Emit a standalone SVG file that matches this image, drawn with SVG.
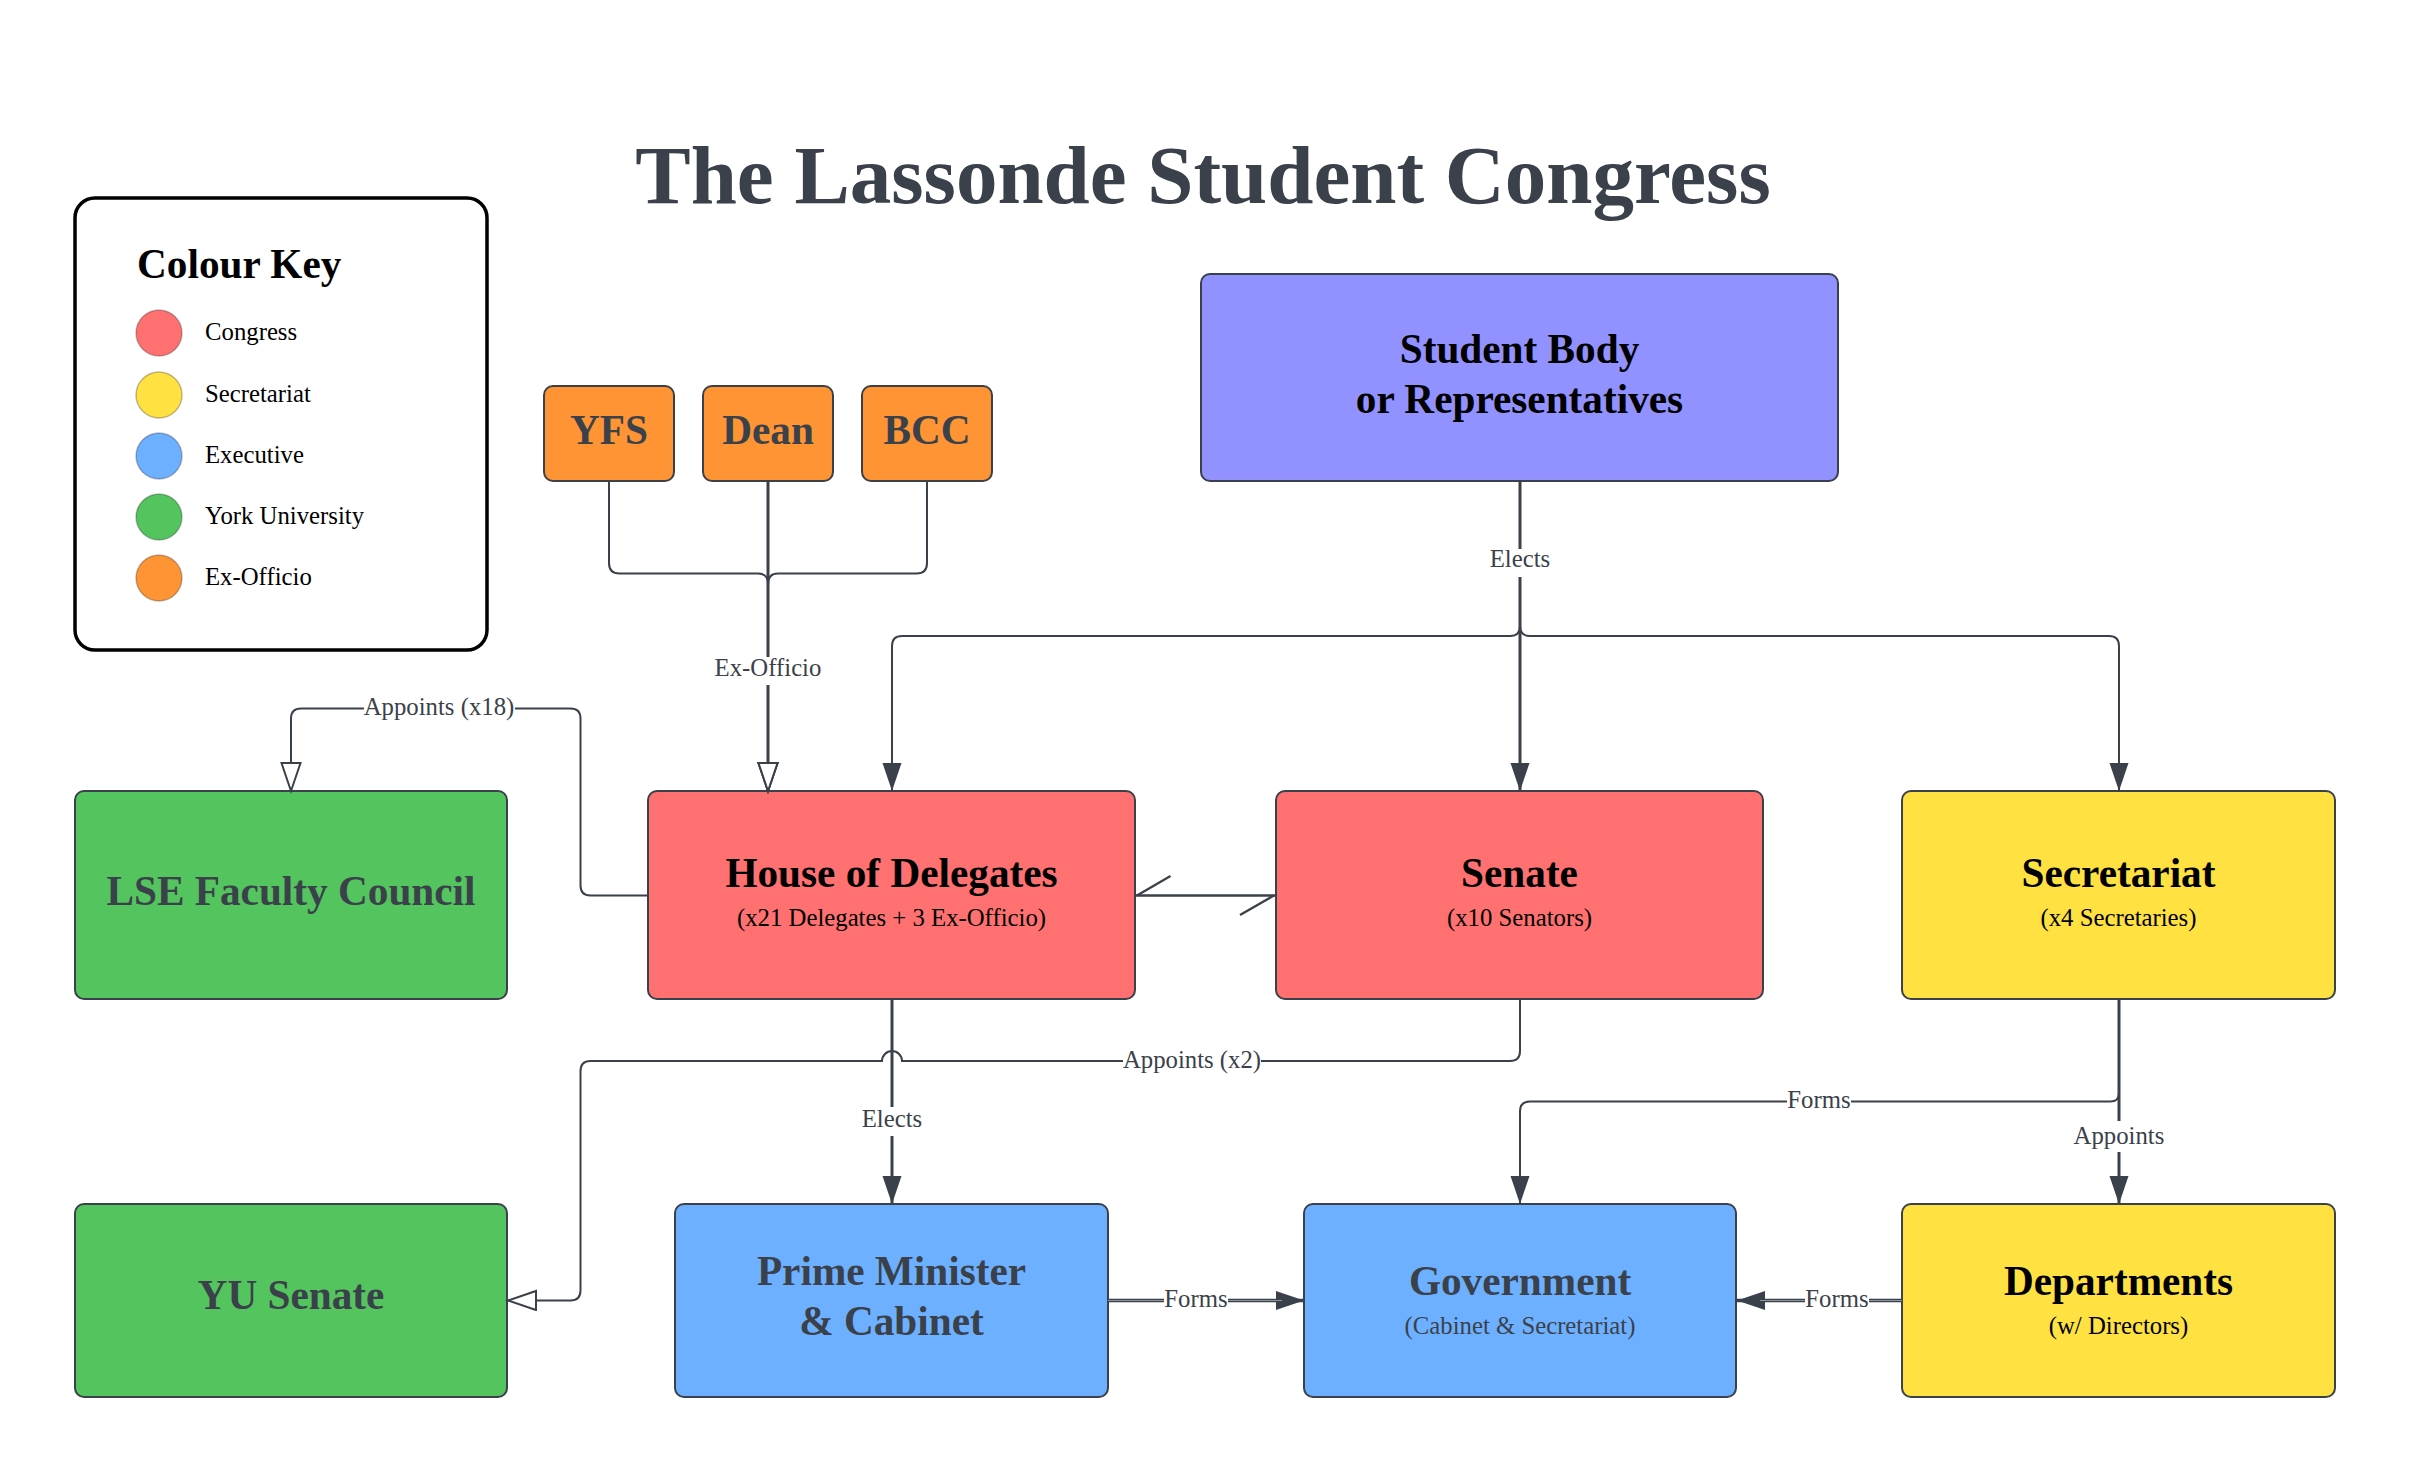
<svg xmlns="http://www.w3.org/2000/svg" width="2413" height="1472" viewBox="0 0 2413 1472">
<defs>
<style>
.node{stroke:#3a414a;stroke-width:2}
.red{fill:#ff7070}.yel{fill:#ffe142}.blu{fill:#6db0ff}.grn{fill:#54c45e}.org{fill:#fe9433}.pur{fill:#9191ff}
.t{font-family:"Liberation Serif","Times New Roman",serif;font-weight:bold;font-size:41.25px;text-anchor:middle}
.s{font-family:"Liberation Serif","Times New Roman",serif;font-size:24.75px;text-anchor:middle}
.dk{fill:#3a414a}.bk{fill:#000}
.c{fill:none;stroke:#3a414a;stroke-width:2}
.c3{fill:none;stroke:#3a414a;stroke-width:3}
.lbl{font-family:"Liberation Serif","Times New Roman",serif;font-size:24.75px;text-anchor:middle;fill:#3a414a}
.bg{fill:#fff}
.leg{font-family:"Liberation Serif","Times New Roman",serif;font-size:24.75px;fill:#000}
.dot{stroke:#000;stroke-opacity:.25;stroke-width:1.5}
</style>
<marker id="af" markerUnits="userSpaceOnUse" markerWidth="30" markerHeight="21" refX="28" refY="9.5" orient="auto">
<path d="M0,0 L28,9.5 L0,19 Z" fill="#3a414a"/>
</marker>
<marker id="ah" markerUnits="userSpaceOnUse" markerWidth="32" markerHeight="23" refX="29" refY="10.5" orient="auto">
<path d="M1,1 L29,10.5 L1,20 Z" fill="#fff" stroke="#3a414a" stroke-width="2"/>
</marker>
</defs>
<rect width="2413" height="1472" fill="#fff"/>

<text x="1203" y="203" class="t dk" style="font-size:83px">The Lassonde Student Congress</text>

<g id="colour-key">
<rect x="75" y="198" width="412" height="452" rx="20" fill="#fff" stroke="#000" stroke-width="3.5"/>
<text x="137" y="278" style="font-family:'Liberation Serif','Times New Roman',serif;font-weight:bold;font-size:41.25px" fill="#000">Colour Key</text>
<circle cx="159" cy="333" r="23" class="red dot"/><text x="205" y="340" class="leg">Congress</text>
<circle cx="159" cy="395" r="23" class="yel dot"/><text x="205" y="402" class="leg">Secretariat</text>
<circle cx="159" cy="456" r="23" class="blu dot"/><text x="205" y="463" class="leg">Executive</text>
<circle cx="159" cy="517" r="23" class="grn dot"/><text x="205" y="524" class="leg">York University</text>
<circle cx="159" cy="578" r="23" class="org dot"/><text x="205" y="585" class="leg">Ex-Officio</text>
</g>

<g id="student-body">
<rect x="1201" y="274" width="637" height="207" rx="9" class="node pur"/>
<text x="1519.5" y="363" class="t bk">Student Body</text>
<text x="1519.5" y="412.5" class="t bk">or Representatives</text>
</g>
<g id="yfs"><rect x="544" y="386" width="130" height="95" rx="9" class="node org"/><text x="609" y="444" class="t dk">YFS</text></g>
<g id="dean"><rect x="703" y="386" width="130" height="95" rx="9" class="node org"/><text x="768" y="444" class="t dk">Dean</text></g>
<g id="bcc"><rect x="862" y="386" width="130" height="95" rx="9" class="node org"/><text x="927" y="444" class="t dk">BCC</text></g>

<g id="lse-faculty-council"><rect x="75" y="791" width="432" height="208" rx="9" class="node grn"/><text x="291" y="905" class="t dk">LSE Faculty Council</text></g>
<g id="house-of-delegates"><rect x="648" y="791" width="487" height="208" rx="9" class="node red"/>
<text x="891.5" y="887" class="t bk">House of Delegates</text>
<text x="891.5" y="925.5" class="s bk">(x21 Delegates + 3 Ex-Officio)</text></g>
<g id="senate"><rect x="1276" y="791" width="487" height="208" rx="9" class="node red"/>
<text x="1519.5" y="887" class="t bk">Senate</text>
<text x="1519.5" y="925.5" class="s bk">(x10 Senators)</text></g>
<g id="secretariat"><rect x="1902" y="791" width="433" height="208" rx="9" class="node yel"/>
<text x="2118.5" y="887" class="t bk">Secretariat</text>
<text x="2118.5" y="925.5" class="s bk">(x4 Secretaries)</text></g>

<g id="yu-senate"><rect x="75" y="1204" width="432" height="193" rx="9" class="node grn"/><text x="291" y="1309" class="t dk">YU Senate</text></g>
<g id="prime-minister"><rect x="675" y="1204" width="433" height="193" rx="9" class="node blu"/>
<text x="891.5" y="1285" class="t dk">Prime Minister</text>
<text x="891.5" y="1335" class="t dk">&amp; Cabinet</text></g>
<g id="government"><rect x="1304" y="1204" width="432" height="193" rx="9" class="node blu"/>
<text x="1520" y="1295" class="t dk">Government</text>
<text x="1520" y="1334" class="s dk">(Cabinet &amp; Secretariat)</text></g>
<g id="departments"><rect x="1902" y="1204" width="433" height="193" rx="9" class="node yel"/>
<text x="2118.5" y="1295" class="t bk">Departments</text>
<text x="2118.5" y="1334" class="s bk">(w/ Directors)</text></g>

<g id="connectors">
<path class="c" d="M609,481 V563 Q609,573.5 619.5,573.5 H758 Q768,573.5 768,584 V791" marker-end="url(#ah)"/>
<path class="c" d="M927,481 V563 Q927,573.5 916.5,573.5 H778 Q768,573.5 768,584 V791" marker-end="url(#ah)"/>
<path class="c3" d="M768,481 V791" marker-end="url(#ah)"/>
<rect class="bg" x="714" y="657" width="108" height="28"/>
<text class="lbl" x="768" y="676">Ex-Officio</text>

<path class="c" d="M1520,481 V626 Q1520,636 1510,636 H902 Q892,636 892,646 V791" marker-end="url(#af)"/>
<path class="c" d="M1520,481 V626 Q1520,636 1530,636 H2109 Q2119,636 2119,646 V791" marker-end="url(#af)"/>
<path class="c3" d="M1520,481 V791" marker-end="url(#af)"/>
<rect class="bg" x="1489" y="549" width="62" height="28"/>
<text class="lbl" x="1520" y="567">Elects</text>

<path class="c" d="M648,895.5 H590.5 Q580.5,895.5 580.5,885.5 V718.5 Q580.5,708.5 570.5,708.5 H301 Q291,708.5 291,718.5 V791" marker-end="url(#ah)"/>
<rect class="bg" x="364" y="694" width="151" height="28"/>
<text class="lbl" x="439" y="715">Appoints (x18)</text>

<path d="M1135,895.5 H1276" fill="none" stroke="#3a414a" stroke-width="2.3"/>
<path d="M1137,895.5 L1170.5,876" fill="none" stroke="#3a414a" stroke-width="2.3"/>
<path d="M1274,895.5 L1240,915" fill="none" stroke="#3a414a" stroke-width="2.3"/>

<path class="c" d="M1520,999 V1051 Q1520,1061 1510,1061 H902 A10,10 0 0 0 882,1061 H590.5 Q580.5,1061 580.5,1071 V1290.5 Q580.5,1300.5 570.5,1300.5 H508" marker-end="url(#ah)"/>
<rect class="bg" x="1123" y="1047" width="138" height="28"/>
<text class="lbl" x="1192" y="1067.5">Appoints (x2)</text>

<path class="c3" d="M892,999 V1204" marker-end="url(#af)"/>
<rect class="bg" x="860" y="1107" width="64" height="29"/>
<text class="lbl" x="892" y="1127">Elects</text>

<path d="M1108,1300.5 H1304" fill="none" stroke="#3a414a" stroke-width="3.5" marker-end="url(#af)"/>
<path d="M1108,1300.5 H1282" fill="none" stroke="#8d939b" stroke-width="1"/>
<rect class="bg" x="1164" y="1287" width="64" height="28"/>
<text class="lbl" x="1196" y="1307">Forms</text>

<path d="M1902,1300.5 H1737" fill="none" stroke="#3a414a" stroke-width="3.5" marker-end="url(#af)"/>
<path d="M1902,1300.5 H1760" fill="none" stroke="#8d939b" stroke-width="1"/>
<rect class="bg" x="1805" y="1287" width="64" height="28"/>
<text class="lbl" x="1837" y="1307">Forms</text>

<path class="c" d="M2119,999 V1093 Q2119,1101.5 2110.5,1101.5 H1530 Q1520,1101.5 1520,1111.5 V1204" marker-end="url(#af)"/>
<rect class="bg" x="1787" y="1088" width="64" height="28"/>
<text class="lbl" x="1819" y="1108">Forms</text>

<path class="c3" d="M2119,999 V1204" marker-end="url(#af)"/>
<rect class="bg" x="2074" y="1121" width="90" height="31"/>
<text class="lbl" x="2119" y="1144">Appoints</text>
</g>
</svg>
